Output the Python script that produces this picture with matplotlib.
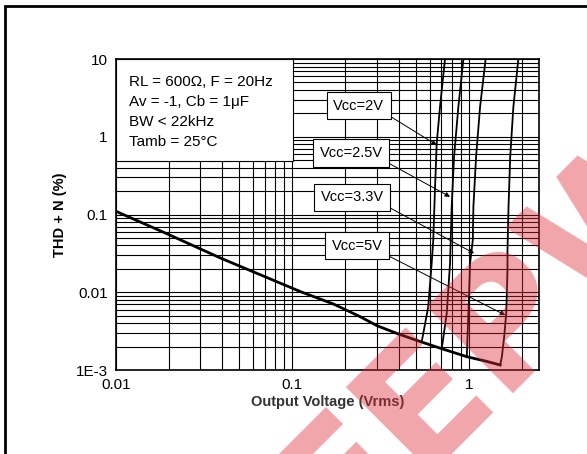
import matplotlib
matplotlib.use('Agg')
import matplotlib.pyplot as plt
from matplotlib.patches import Rectangle

plt.rcParams['font.family'] = ['Liberation Sans', 'DejaVu Sans']

# common low-level curve (noise floor), Vrms -> THD+N %
v_common = [0.01, 0.0196, 0.0395, 0.111, 0.171, 0.24, 0.303, 0.4, 0.534, 0.693, 0.978, 1.25, 1.506]
thd_common = [0.11, 0.0561, 0.0273, 0.0102, 0.00706, 0.0049, 0.0037, 0.0029, 0.00231, 0.0019, 0.00148, 0.0013, 0.00116]

# clipping branches for each supply voltage
v_2v = [0.541, 0.589, 0.616, 0.629, 0.643, 0.658, 0.687, 0.733]
thd_2v = [0.00231, 0.00652, 0.0236, 0.047, 0.207, 0.824, 2.44, 10]

v_25v = [0.703, 0.75, 0.783, 0.79, 0.80, 0.825, 0.873, 0.932]
thd_25v = [0.0019, 0.00536, 0.0236, 0.047, 0.126, 0.554, 2.44, 10]

v_33v = [0.974, 0.995, 1.017, 1.054, 1.062, 1.10, 1.159, 1.246]
thd_33v = [0.00148, 0.00536, 0.0236, 0.047, 0.126, 0.554, 2.44, 10]

v_5v = [1.506, 1.54, 1.587, 1.63, 1.644, 1.657, 1.657, 1.68, 1.717, 1.79, 1.91]
thd_5v = [0.00116, 0.00148, 0.00268, 0.00536, 0.0097, 0.0193, 0.0349, 0.126, 0.554, 2.44, 10]

vcc_labels = ['Vcc=2V', 'Vcc=2.5V', 'Vcc=3.3V', 'Vcc=5V']
arrow_x = [0.658, 0.783, 1.072, 1.61]
arrow_y = [0.783, 0.169, 0.0317, 0.00509]
label_pos = [(0.574, 0.850), (0.556, 0.698), (0.558, 0.555), (0.570, 0.399)]

cond_lines = ['RL = 600\u03a9, F = 20Hz', 'Av = -1, Cb = 1\u03bcF',
              'BW < 22kHz', 'Tamb = 25\u00b0C']

fig = plt.figure(figsize=(5.87, 4.54), dpi=100)
ax = fig.add_axes([0.1976, 0.185, 0.7206, 0.685])

ax.plot(v_common, thd_common, color='black', lw=2.0, zorder=3)
for xs, ys in [(v_2v, thd_2v), (v_25v, thd_25v), (v_33v, thd_33v), (v_5v, thd_5v)]:
    ax.plot(xs, ys, color='black', lw=1.3, zorder=3)

ax.set_xscale('log')
ax.set_yscale('log')
ax.set_xlim(0.01, 2.5)
ax.set_ylim(0.001, 10)
ax.grid(True, which='both', color='black', lw=0.8)
ax.set_axisbelow(True)
ax.tick_params(which='both', length=0, labelsize=11, pad=6)
ax.set_xticks([0.01, 0.1, 1])
ax.set_xticklabels(['0.01', '0.1', '1'])
ax.set_yticks([0.001, 0.01, 0.1, 1, 10])
ax.set_yticklabels(['1E-3', '0.01', '0.1', '1', '10'])
for s in ax.spines.values():
    s.set_linewidth(1.2)

ax.set_xlabel('Output Voltage (Vrms)', fontsize=10.5, fontweight='bold',
              color='#333333', labelpad=2)
ax.set_ylabel('THD + N (%)', fontsize=10.5, fontweight='bold', labelpad=6)

# conditions box
ax.add_patch(Rectangle((0, 0.673), 0.418, 0.327, transform=ax.transAxes,
                       facecolor='white', edgecolor='black', lw=0.8, zorder=5))
for i, line in enumerate(cond_lines):
    ax.text(0.031, 0.927 - i * 0.0647, line, transform=ax.transAxes,
            fontsize=11, va='center', ha='left', zorder=6)

# Vcc callouts
for lab, xa, ya, pos in zip(vcc_labels, arrow_x, arrow_y, label_pos):
    ax.annotate(lab, xy=(xa, ya), xycoords='data', xytext=pos,
                textcoords='axes fraction', ha='center', va='center',
                fontsize=10.5, zorder=6,
                bbox=dict(boxstyle='square,pad=0.45', facecolor='white',
                          edgecolor='black', lw=0.8),
                arrowprops=dict(arrowstyle='-|>', color='black', lw=0.7,
                                relpos=(1, 0), shrinkA=0, shrinkB=0,
                                mutation_scale=7))

# outer frame (left and top edges visible)
fig.add_artist(Rectangle((4.5 / 587, -0.2), 1.2, (454 - 5.7) / 454 + 0.2,
                         transform=fig.transFigure, fill=False,
                         edgecolor='black', lw=2, clip_on=False))

# watermark
fig.text(0.84, 0.27, 'EEPW', fontsize=120, fontweight='heavy',
         family='DejaVu Sans', color=(0.86, 0.16, 0.2), alpha=0.42,
         rotation=45, ha='center', va='center', zorder=10)

fig.savefig('out.png', dpi=100)
